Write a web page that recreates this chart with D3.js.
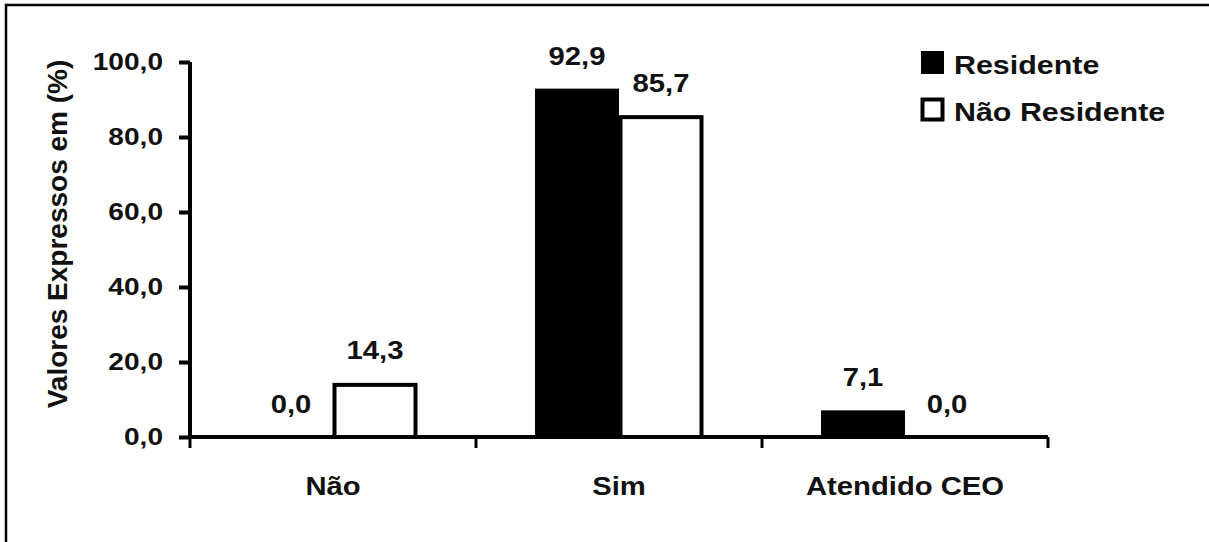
<!DOCTYPE html>
<html>
<head>
<meta charset="utf-8">
<script src="https://cdn.jsdelivr.net/npm/d3@7"></script>
<style>
  body { margin: 0; background: #fff; }
  text { font-family: "Liberation Sans", Arial, sans-serif; font-weight: bold; fill: #111; }
</style>
</head>
<body>
<svg width="1209" height="542"></svg>
<script>
// chart data
const categories = ["Não", "Sim", "Atendido CEO"]
const seriesNames = ["Residente", "Não Residente"]
const residente = [0.0, 92.9, 7.1]
const naoResidente = [14.3, 85.7, 0.0]
const yTicks = [0, 20, 40, 60, 80, 100]

const SX = 1.17 // the source picture is a bit stretched sideways

const svg = d3.select("svg")

// outer frame (only top and left edges visible)
svg.append("path")
    .attr("d", "M6,542 L6,5 L1209,5")
    .attr("fill", "none").attr("stroke", "#000").attr("stroke-width", 2.5)

const x0 = d3.scaleBand().domain(categories).range([190, 1048])
const x1 = d3.scaleBand().domain(seriesNames).range([0, 168])
const y = d3.scaleLinear().domain([0, 100]).range([437, 62])
const fmt = d => d3.format(".1f")(d).replace(".", ",")

// bars
const rows = categories.map((c, i) => ({cat: c, vals: [residente[i], naoResidente[i]]}))
const groups = svg.selectAll("g.cat").data(rows).enter().append("g")
    .attr("transform", d => `translate(${x0(d.cat) + x0.bandwidth() / 2 - 84},0)`)

const cells = d => d.vals.map((v, j) => ({v, s: seriesNames[j]}))

groups.selectAll("rect").data(d => cells(d).filter(c => c.v > 0))
    .enter().append("rect")
    .attr("x", d => x1(d.s) + (d.s === "Residente" ? 0 : 1.5))
    .attr("y", d => y(d.v) + (d.s === "Residente" ? 0 : 1.5))
    .attr("width", d => x1.bandwidth() - (d.s === "Residente" ? 0 : 3))
    .attr("height", d => y(0) - y(d.v) - (d.s === "Residente" ? 0 : 1.5))
    .attr("fill", d => d.s === "Residente" ? "#000" : "#fff")
    .attr("stroke", "#000")
    .attr("stroke-width", d => d.s === "Residente" ? 0 : 4)

groups.selectAll("text.val").data(cells)
    .enter().append("text")
    .attr("transform", d => `translate(${x1(d.s) + x1.bandwidth() / 2},${y(d.v) - 24}) scale(${SX},1)`)
    .attr("text-anchor", "middle")
    .style("font-size", "25px")
    .text(d => fmt(d.v))

// y axis
const yAxis = svg.append("g").attr("transform", "translate(190,0)")
    .call(d3.axisLeft(y).tickValues(yTicks).tickSize(11).tickPadding(15).tickFormat(fmt))
yAxis.select(".domain").attr("stroke-width", 4).attr("d", "M0,62V437")
yAxis.selectAll(".tick line").attr("stroke-width", 4)
yAxis.selectAll(".tick text")
    .attr("font-family", null)
    .style("font-size", "24px")
    .attr("x", -27 / SX)
    .attr("transform", `scale(${SX},1)`)

// x axis
const xAxis = svg.append("g").attr("transform", "translate(0,437)")
    .call(d3.axisBottom(x0).tickSize(0))
xAxis.select(".domain").attr("stroke-width", 4).attr("d", "M190,0H1048")
xAxis.selectAll(".tick text")
    .attr("font-family", null)
    .style("font-size", "25px")
    .attr("y", 0).attr("dy", null)
    .attr("transform", `translate(0,58) scale(${SX},1)`)
xAxis.selectAll("line.sep").data(d3.range(categories.length + 1)).enter().append("line")
    .attr("class", "sep")
    .attr("x1", i => 190 + i * x0.step()).attr("x2", i => 190 + i * x0.step())
    .attr("y1", 0).attr("y2", 11)
    .attr("stroke", "#000").attr("stroke-width", 3)

// y axis title
svg.append("text")
    .attr("transform", "translate(67,234) rotate(-90)")
    .attr("text-anchor", "middle")
    .style("font-size", "28px")
    .text("Valores Expressos em (%)")

// legend
const legend = svg.selectAll("g.leg").data(seriesNames).enter().append("g")
    .attr("transform", (d, i) => `translate(921,${51 + i * 47})`)
legend.append("rect")
    .attr("x", (d, i) => i ? 1.5 : 0).attr("y", (d, i) => i ? 1.5 : 0)
    .attr("width", (d, i) => i ? 20 : 23).attr("height", (d, i) => i ? 20 : 23)
    .attr("fill", (d, i) => i ? "#fff" : "#000")
    .attr("stroke", "#000").attr("stroke-width", (d, i) => i ? 4 : 0)
legend.append("text")
    .attr("transform", `translate(33,23) scale(${SX},1)`)
    .style("font-size", "26px")
    .text(d => d)
</script>
</body>
</html>
